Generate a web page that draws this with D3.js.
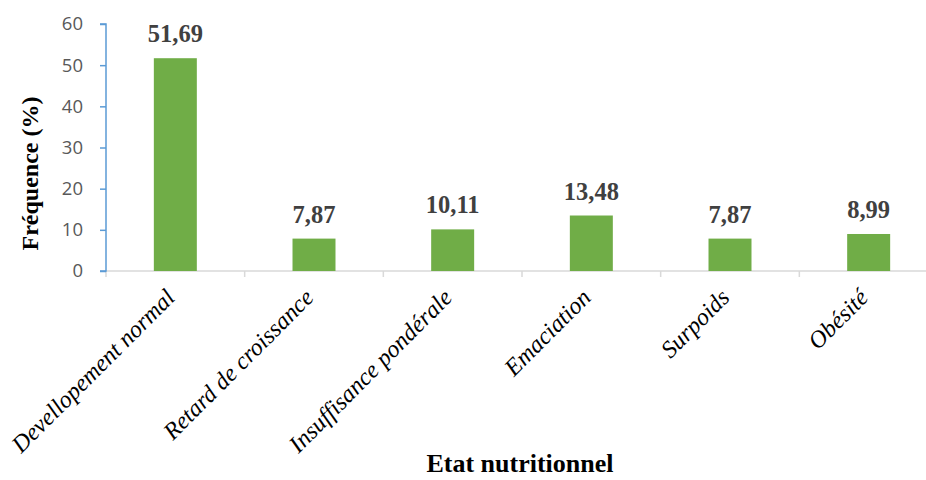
<!DOCTYPE html>
<html>
<head>
<meta charset="utf-8">
<script src="https://cdn.jsdelivr.net/npm/d3@7"></script>
<style>
  html, body { margin: 0; padding: 0; background: #ffffff; }
  svg { display: block; }
</style>
</head>
<body>
<svg id="chart" width="926" height="480"></svg>
<script>
// Nutritional status distribution (%)
const categories = [
  "Devellopement normal",
  "Retard de croissance",
  "Insuffisance pondérale",
  "Emaciation",
  "Surpoids",
  "Obésité"
];
const frequencies = [51.69, 7.87, 10.11, 13.48, 7.87, 8.99];
const valueLabels = ["51,69", "7,87", "10,11", "13,48", "7,87", "8,99"];
const yTicks = [0, 10, 20, 30, 40, 50, 60];
const yTitle = "Fréquence (%)";
const xTitle = "Etat nutritionnel";

const svg = d3.select("#chart");
const plot = { left: 106, right: 938, top: 24, bottom: 271 };

const x = d3.scaleBand()
  .domain(categories)
  .range([plot.left, plot.right])
  .paddingInner(0.69)
  .paddingOuter(0.345);

const y = d3.scaleLinear()
  .domain([0, 60])
  .range([plot.bottom, plot.top]);

// category axis: grey baseline with ticks between categories
const xAxisG = svg.append("g")
  .attr("transform", `translate(0,${plot.bottom})`);
xAxisG.append("line")
  .attr("x1", plot.left).attr("x2", plot.right)
  .attr("y1", 0).attr("y2", 0)
  .attr("stroke", "#d9d9d9").attr("stroke-width", 1.5);
const step = (plot.right - plot.left) / categories.length;
xAxisG.selectAll("line.sep")
  .data(d3.range(categories.length + 1))
  .join("line")
  .attr("class", "sep")
  .attr("x1", i => plot.left + i * step)
  .attr("x2", i => plot.left + i * step)
  .attr("y1", 0).attr("y2", 6)
  .attr("stroke", "#d9d9d9").attr("stroke-width", 1.5);

// bars
svg.append("g").selectAll("rect")
  .data(frequencies)
  .join("rect")
  .attr("x", (d, i) => x(categories[i]))
  .attr("width", x.bandwidth())
  .attr("y", d => y(d))
  .attr("height", d => y(0) - y(d))
  .attr("fill", "#70ad47");

// value axis
const yAxis = d3.axisLeft(y)
  .tickValues(yTicks)
  .tickSize(6)
  .tickPadding(17)
  .tickFormat(d3.format("d"));
const yAxisG = svg.append("g")
  .attr("transform", `translate(${plot.left},0)`)
  .call(yAxis);
yAxisG.select(".domain")
  .attr("stroke", "#5b9bd5").attr("stroke-width", 1.5)
  .attr("d", `M-6,${plot.top}H0V${plot.bottom}H-6`);
yAxisG.selectAll(".tick line").attr("stroke", "#5b9bd5").attr("stroke-width", 1.5);
yAxisG.selectAll(".tick text")
  .attr("fill", "#595959")
  .style("font-family", "'Open Sans', sans-serif")
  .style("font-size", "18.5px");

// value labels
svg.append("g").selectAll("text")
  .data(frequencies)
  .join("text")
  .attr("x", (d, i) => x(categories[i]) + x.bandwidth() / 2)
  .attr("y", d => y(d) - 16)
  .attr("text-anchor", "middle")
  .attr("fill", "#404040")
  .style("font-family", "'Liberation Serif', 'Times New Roman', serif")
  .style("font-weight", "bold")
  .style("font-size", "24.5px")
  .text((d, i) => valueLabels[i]);

// rotated category labels
svg.append("g").selectAll("text")
  .data(categories)
  .join("text")
  .attr("transform", d => `translate(${x(d) + x.bandwidth() / 2 - 5},${plot.bottom + 22}) rotate(-45)`)
  .attr("text-anchor", "end")
  .attr("dy", "0.35em")
  .attr("fill", "#000")
  .style("font-family", "'Liberation Serif', 'Times New Roman', serif")
  .style("font-style", "italic")
  .style("font-size", "24px")
  .text(d => d);

// axis titles
svg.append("text")
  .attr("transform", `translate(38,${(plot.top + plot.bottom) / 2 + 26}) rotate(-90)`)
  .attr("text-anchor", "middle")
  .style("font-family", "'Liberation Serif', 'Times New Roman', serif")
  .style("font-weight", "bold")
  .style("font-size", "24px")
  .text(yTitle);

svg.append("text")
  .attr("x", 520)
  .attr("y", 472)
  .attr("text-anchor", "middle")
  .style("font-family", "'Liberation Serif', 'Times New Roman', serif")
  .style("font-weight", "bold")
  .style("font-size", "26px")
  .text(xTitle);
</script>
</body>
</html>
